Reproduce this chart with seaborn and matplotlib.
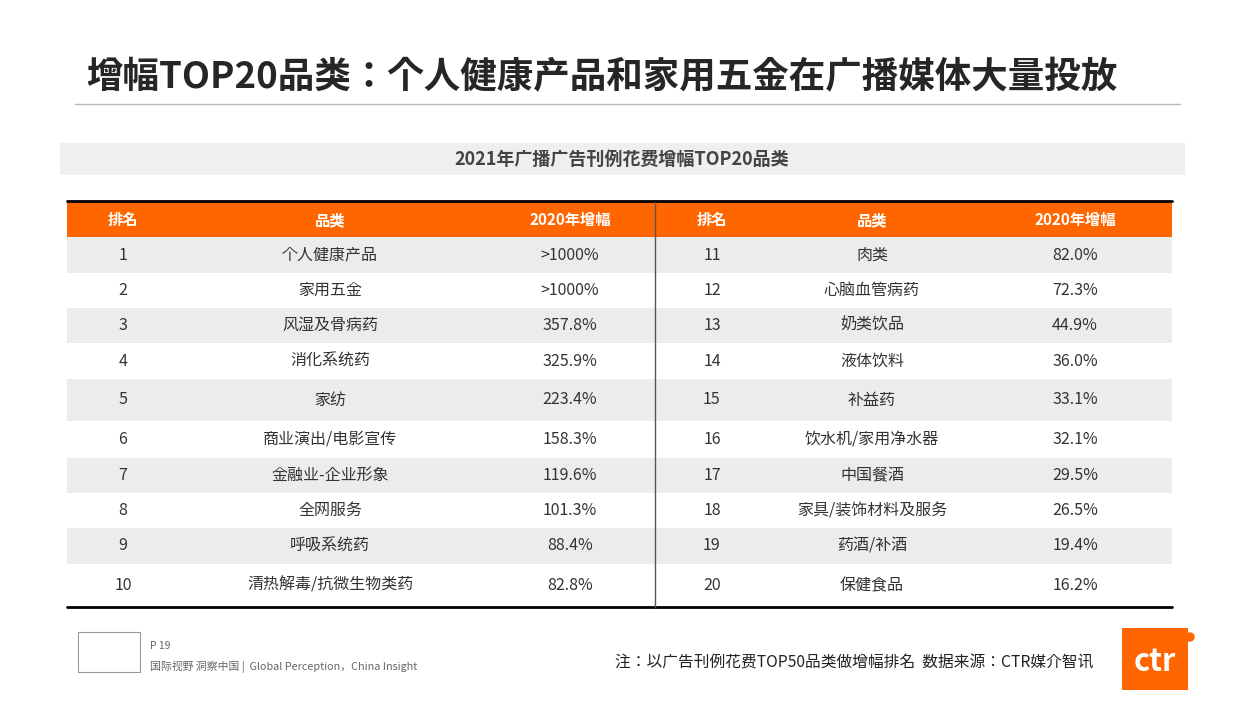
import matplotlib.pyplot as plt
import matplotlib.patches as patches
from matplotlib import font_manager as fm
import seaborn as sns

sns.set_theme(style="white")

# locate a CJK font file and register it
cjk_name = None
for f in fm.findSystemFonts():
    if "CJK" in f and ("SC" in f or "Sans" in f):
        try:
            fm.fontManager.addfont(f)
            name = fm.FontProperties(fname=f).get_name()
            if cjk_name is None or "SC" in name:
                cjk_name = name
        except Exception:
            pass
plt.rcParams["font.family"] = "sans-serif"
plt.rcParams["font.sans-serif"] = [cjk_name or "Noto Sans CJK SC", "DejaVu Sans"]

ranks_left = [1, 2, 3, 4, 5, 6, 7, 8, 9, 10]
cats_left = ["个人健康产品", "家用五金", "风湿及骨病药", "消化系统药", "家纺",
             "商业演出/电影宣传", "金融业-企业形象", "全网服务", "呼吸系统药", "清热解毒/抗微生物类药"]
growth_left = [">1000%", ">1000%", "357.8%", "325.9%", "223.4%",
               "158.3%", "119.6%", "101.3%", "88.4%", "82.8%"]
ranks_right = [11, 12, 13, 14, 15, 16, 17, 18, 19, 20]
cats_right = ["肉类", "心脑血管病药", "奶类饮品", "液体饮料", "补益药",
              "饮水机/家用净水器", "中国餐酒", "家具/装饰材料及服务", "药酒/补酒", "保健食品"]
growth_right = ["82.0%", "72.3%", "44.9%", "36.0%", "33.1%",
                "32.1%", "29.5%", "26.5%", "19.4%", "16.2%"]
headers = ["排名", "品类", "2020年增幅"]

ORANGE = "#FF6600"
W, H = 1254, 705
fig = plt.figure(figsize=(12.54, 7.05), dpi=100)
ax = fig.add_axes([0, 0, 1, 1])
ax.set_xlim(0, W)
ax.set_ylim(H, 0)
ax.axis("off")

# title
ax.text(86, 78, "增幅TOP20品类：个人健康产品和家用五金在广播媒体大量投放",
        fontsize=26.3, fontweight="bold", color="#262626", va="center")
ax.plot([75, 1180], [104, 104], color="#bbbbbb", lw=1)

# subtitle band
ax.add_patch(patches.Rectangle((60, 143), 1125, 32, color="#efefef", lw=0))
ax.text(622, 159, "2021年广播广告刊例花费增幅TOP20品类", fontsize=13,
        fontweight="bold", color="#444444", ha="center", va="center")

# table
x0, x1, xmid = 67, 1172, 655
ax.add_patch(patches.Rectangle((x0, 202), x1 - x0, 35, color=ORANGE, lw=0))
ax.plot([x0, x1], [201, 201], color="black", lw=2)
bounds = [237, 273, 308, 343, 379, 421, 458, 493, 528, 564, 607]
for i in range(10):
    if i % 2 == 0:
        ax.add_patch(patches.Rectangle((x0, bounds[i]), x1 - x0, bounds[i + 1] - bounds[i],
                                       color="#ececec", lw=0))
ax.plot([x0, x1], [607, 607], color="black", lw=2)
ax.plot([xmid, xmid], [202, 607], color="#555555", lw=1)

col_left = [123, 330, 570]
col_right = [712, 872, 1075]
for cx, h in zip(col_left + col_right, headers + headers):
    ax.text(cx, 220, h, fontsize=11, fontweight="bold", color="white", ha="center", va="center")

for i in range(10):
    cy = (bounds[i] + bounds[i + 1]) / 2
    for cx, v in zip(col_left, [ranks_left[i], cats_left[i], growth_left[i]]):
        ax.text(cx, cy, str(v), fontsize=11.5, color="#333333", ha="center", va="center")
    for cx, v in zip(col_right, [ranks_right[i], cats_right[i], growth_right[i]]):
        ax.text(cx, cy, str(v), fontsize=11.5, color="#333333", ha="center", va="center")

# footer
ax.add_patch(patches.Rectangle((78, 632), 62, 40, fill=False, ec="#999999", lw=0.8))
ax.text(150, 646, "P 19", fontsize=7.5, color="#666666", va="center")
ax.text(150, 667, "国际视野 洞察中国 |  Global Perception，China Insight", fontsize=7.8,
        color="#666666", va="center")
ax.text(1093, 663, "注：以广告刊例花费TOP50品类做增幅排名  数据来源：CTR媒介智讯",
        fontsize=11.3, color="#222222", ha="right", va="center")
ax.add_patch(patches.Rectangle((1122, 628), 66, 62, color=ORANGE, lw=0))
ax.text(1155, 662, "ctr", fontsize=22, fontweight="bold", color="white", ha="center", va="center")
ax.add_patch(patches.Circle((1190, 637), 4, color=ORANGE))

fig.savefig("out.png", dpi=100)
